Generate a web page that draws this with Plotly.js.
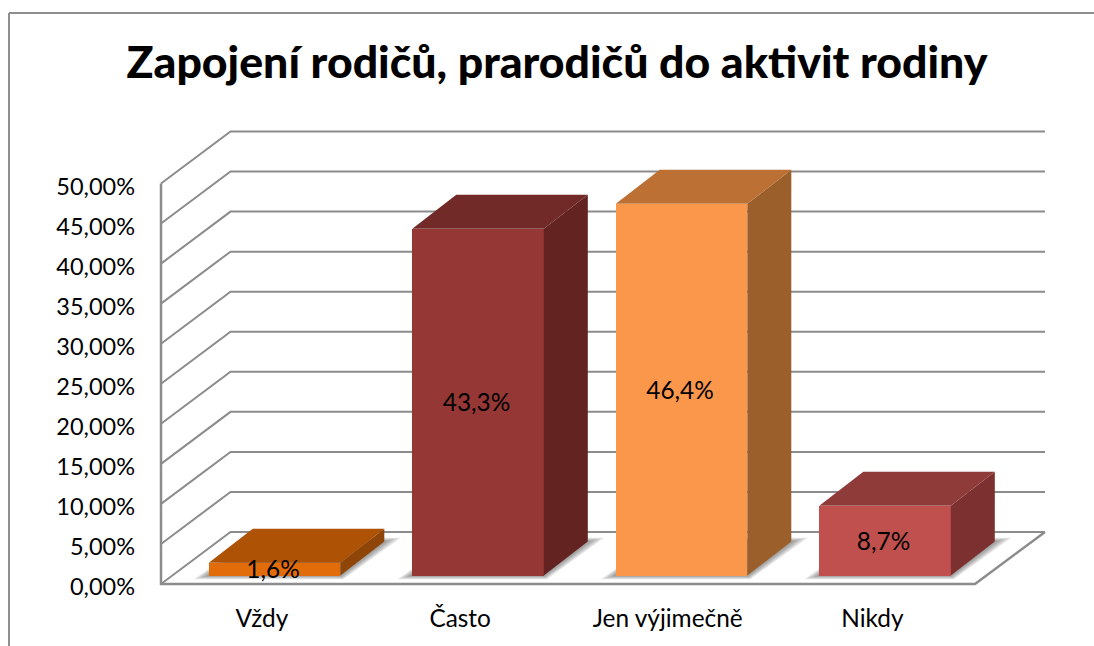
<!DOCTYPE html>
<html><head><meta charset="utf-8">
<script src="https://cdn.plot.ly/plotly-3.0.1.min.js"></script>
<style>html,body{margin:0;padding:0;background:#fff;overflow:hidden}#c{width:1094px;height:646px}</style>
</head><body><div id="c"></div>
<script>
const categories = ['Vždy','Často','Jen výjimečně','Nikdy'];
const values = [1.6,43.3,46.4,8.7];
const valueLabels = ['1,6%','43,3%','46,4%','8,7%'];
const yTicks = [0,5,10,15,20,25,30,35,40,45,50];
const yTickLabels = ['0,00%','5,00%','10,00%','15,00%','20,00%','25,00%','30,00%','35,00%','40,00%','45,00%','50,00%'];
const categoryTickPositions = [0.496,1.47,2.49,3.496];
const frontColors = ['#E36C0A','#953735','#FA974A','#C0504D'];
const topColors = ['#AE5206','#722A28','#BC7033','#8F3B3A'];
const sideColors = ['#8F4408','#632321','#9B5F2B','#7C302F'];

const pad=5;                        // room round the drawing so thick lines are not clipped
const W=1094,H=646,x0Px=161,y0Px=584,L=x0Px-pad,R=49-pad,T=132-pad,B=(H-y0Px)-pad;
const pxX=203.5, pxY=8.01;           // pixels per axis unit
const xEnd=(W-x0Px-49)/pxX, yEnd=(y0Px-132)/pxY;
const xMin=-pad/pxX, yMin=-pad/pxY, xMax=xEnd+pad/pxX, yMax=yEnd+pad/pxY;
const wallDX=69.5/pxX, wallDY=52/pxY, floorEnd=4;
const barDX=44/pxX, barDY=34/pxY, barW=131.5/pxX, barBase=1.06, barShift=0.558;
const gridColor='#8C8C8C';
const font='Lato, sans-serif';
const centers=categories.map((_,i)=>i+barShift);

const poly=pts=>'M'+pts.map(p=>p[0]+' '+p[1]).join('L');
const shapes=[];
yTicks.forEach(v=>{
  shapes.push({type:'path',xref:'x',yref:'y',layer:'below',
    path:poly([[0,v],[wallDX,v+wallDY],[xEnd,v+wallDY]]),
    line:{color:gridColor,width:2},fillcolor:'rgba(0,0,0,0)'});
});
shapes.push({type:'path',xref:'x',yref:'y',layer:'below',
  path:poly([[0,50],[0,0],[floorEnd,0],[xEnd,wallDY]]),
  line:{color:gridColor,width:2.5},fillcolor:'rgba(0,0,0,0)'});
centers.forEach(c=>{
  const x0=c-barW/2,x1=c+barW/2;
  [15,12,9,6,3].forEach(e=>{
    const ex=e/pxX, ey=e/pxY;
    shapes.push({type:'path',xref:'x',yref:'y',layer:'below',
      path:poly([[x0-ex,barBase-ey*0.25],[x1+ex*0.2,barBase-ey*0.25],[x1+barDX+ex*1.1,barBase+barDY+ey*0.25],[x0+barDX,barBase+barDY+ey*0.25]])+'Z',
      line:{width:0},fillcolor:'rgba(70,70,70,0.13)'});
  });
});
const pw=W-L-R, ph=H-T-B;
const frameX=(9-L)/pw, frameTop=(H-B-13)/ph, frameBottom=-B/ph;
shapes.push({type:'line',xref:'paper',yref:'paper',layer:'above',x0:frameX,x1:frameX,y0:frameBottom,y1:frameTop,line:{color:'#8F8F8F',width:2}});
shapes.push({type:'line',xref:'paper',yref:'paper',layer:'above',x0:frameX,x1:(W-L)/pw,y0:frameTop,y1:frameTop,line:{color:'#8F8F8F',width:2}});

const traces=[{
  type:'bar',x:centers,y:values,base:barBase,width:barW,
  marker:{color:frontColors,line:{width:0}},hoverinfo:'skip',showlegend:false
}];
values.forEach((v,i)=>{
  const x1=centers[i]+barW/2,x0=centers[i]-barW/2,b=barBase,t=barBase+v;
  traces.push({type:'scatter',mode:'lines',fill:'toself',fillcolor:sideColors[i],line:{width:0,color:sideColors[i]},
    x:[x1,x1+barDX,x1+barDX,x1,x1],y:[b,b+barDY,t+barDY,t,b],hoverinfo:'skip',showlegend:false});
  traces.push({type:'scatter',mode:'lines',fill:'toself',fillcolor:topColors[i],line:{width:0,color:topColors[i]},
    x:[x0,x1,x1+barDX,x0+barDX,x0],y:[t,t,t+barDY,t+barDY,t],hoverinfo:'skip',showlegend:false});
});
traces.push({type:'scatter',mode:'text',x:centers.map(c=>c-1.5/pxX),y:values.map(v=>barBase+v/2-3/pxY),
  text:valueLabels,textposition:'middle center',
  textfont:{family:font,size:24.4,color:'#000'},hoverinfo:'skip',showlegend:false,cliponaxis:false});

const layout={
  width:W,height:H,paper_bgcolor:'#fff',plot_bgcolor:'rgba(0,0,0,0)',
  margin:{l:L,r:R,t:T,b:B,pad:0},showlegend:false,hovermode:false,shapes,
  title:{text:'Zapojení rodičů, prarodičů do aktivit rodiny',x:557/W,xanchor:'center',xref:'container',
    y:1-62/H,yanchor:'middle',yref:'container',font:{family:font,size:44.6,weight:900,color:'#000'}},
  xaxis:{type:'linear',range:[xMin,xMax],tickmode:'array',tickvals:categoryTickPositions,ticktext:categories,
    showgrid:false,zeroline:false,showline:false,ticks:'',ticklabelstandoff:13,fixedrange:true,
    tickfont:{family:font,size:24.4,color:'#000'}},
  yaxis:{type:'linear',range:[yMin,yMax],tickmode:'array',tickvals:yTicks,ticktext:yTickLabels,
    showgrid:false,zeroline:false,showline:false,ticks:'',ticklabelstandoff:20,ticklabelshift:3,fixedrange:true,
    tickfont:{family:font,size:23.5,color:'#000'}},
  bargap:0
};
Plotly.newPlot('c',traces,layout,{displayModeBar:false,staticPlot:true});
</script></body></html>
